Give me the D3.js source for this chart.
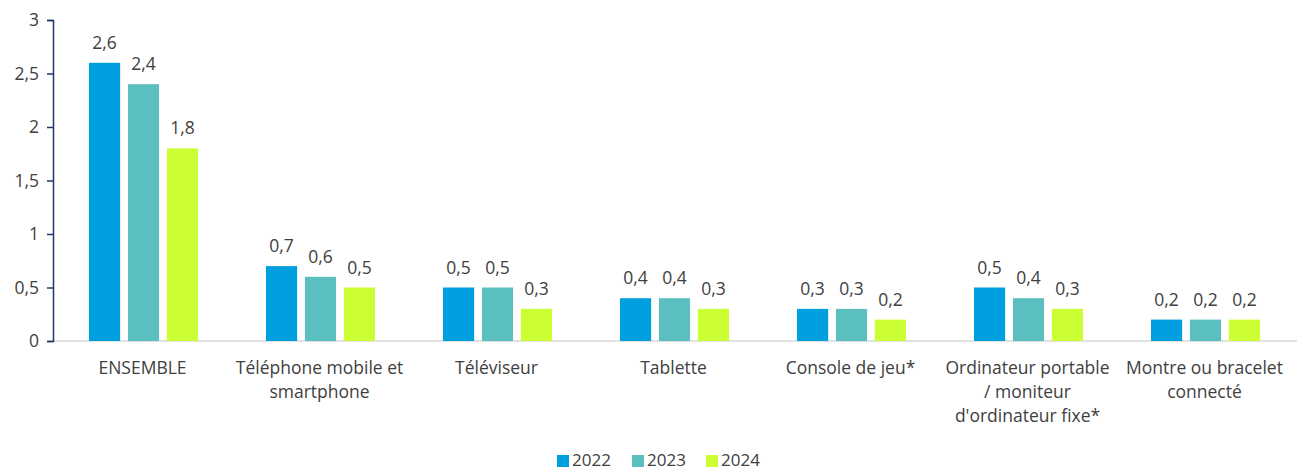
<!DOCTYPE html>
<html><head><meta charset="utf-8">
<script src="https://cdn.jsdelivr.net/npm/d3@7"></script>
<style>body{margin:0;background:#fff;} text{font-family:"Open Sans",sans-serif;}</style>
</head><body><svg id="c" width="1297" height="472"></svg>
<script>
const categories = ["ENSEMBLE","Téléphone mobile et smartphone","Téléviseur","Tablette","Console de jeu*","Ordinateur portable / moniteur d'ordinateur fixe*","Montre ou bracelet connecté"];
const categoryLines = [["ENSEMBLE"],["Téléphone mobile et","smartphone"],["Téléviseur"],["Tablette"],["Console de jeu*"],["Ordinateur portable","/ moniteur","d'ordinateur fixe*"],["Montre ou bracelet","connecté"]];
const seriesNames = ["2022","2023","2024"];
const values2022 = [2.6,0.7,0.5,0.4,0.3,0.5,0.2];
const values2023 = [2.4,0.6,0.5,0.4,0.3,0.4,0.2];
const values2024 = [1.8,0.5,0.3,0.3,0.2,0.3,0.2];
const yTicks = [0,0.5,1,1.5,2,2.5,3];
const colors = ["#009FDF","#5BBFBF","#CCFF33"];
const series = [values2022, values2023, values2024];

const svg = d3.select("#c");
const fmt = v => String(v).replace(".", ",");
const x0 = d3.scaleBand().domain(categories).range([54, 1293]).paddingInner(0).paddingOuter(0);
const x1 = d3.scaleBand().domain(seriesNames).range([35, 144]).paddingInner(0.2);
const y = d3.scaleLinear().domain([0,3]).range([341, 20]);
const FS = "17.5px";

svg.append("line").attr("x1",54).attr("x2",1297).attr("y1",y(0)).attr("y2",y(0)).attr("stroke","#D9D9D9").attr("stroke-width",1.5);

const ya = svg.append("g").attr("transform","translate(53,0)").call(d3.axisLeft(y).tickValues(yTicks).tickFormat(fmt).tickSize(6).tickPadding(8));
ya.selectAll("path,line").attr("stroke","#1F3864").attr("stroke-width",1.5);
ya.selectAll("text").attr("fill","#404040").style("font-size",FS).style("font-family","Open Sans, sans-serif");

const g = svg.append("g");
categories.forEach((c,i)=>{
  series.forEach((vals,s)=>{
    const bx = x0(c)+x1(seriesNames[s]);
    g.append("rect").attr("x",bx).attr("y",y(vals[i])).attr("width",x1.bandwidth()).attr("height",y(0)-y(vals[i])).attr("fill",colors[s]);
    g.append("text").attr("x",bx+x1.bandwidth()/2).attr("y",y(vals[i])-14).attr("text-anchor","middle").attr("fill","#404040").style("font-size",FS).text(fmt(vals[i]));
  });
  const t = g.append("text").attr("text-anchor","middle").attr("fill","#404040").style("font-size",FS);
  categoryLines[i].forEach((ln,k)=>{
    t.append("tspan").attr("x",x0(c)+x0.bandwidth()/2).attr("y",374+k*24).text(ln);
  });
});

const leg = svg.append("g");
const legX = [557, 632, 706];
seriesNames.forEach((n,s)=>{
  leg.append("rect").attr("x",legX[s]).attr("y",455).attr("width",12).attr("height",12).attr("fill",colors[s]);
  leg.append("text").attr("x",legX[s]+15).attr("y",466).attr("fill","#404040").style("font-size","17px").text(n);
});
</script></body></html>
